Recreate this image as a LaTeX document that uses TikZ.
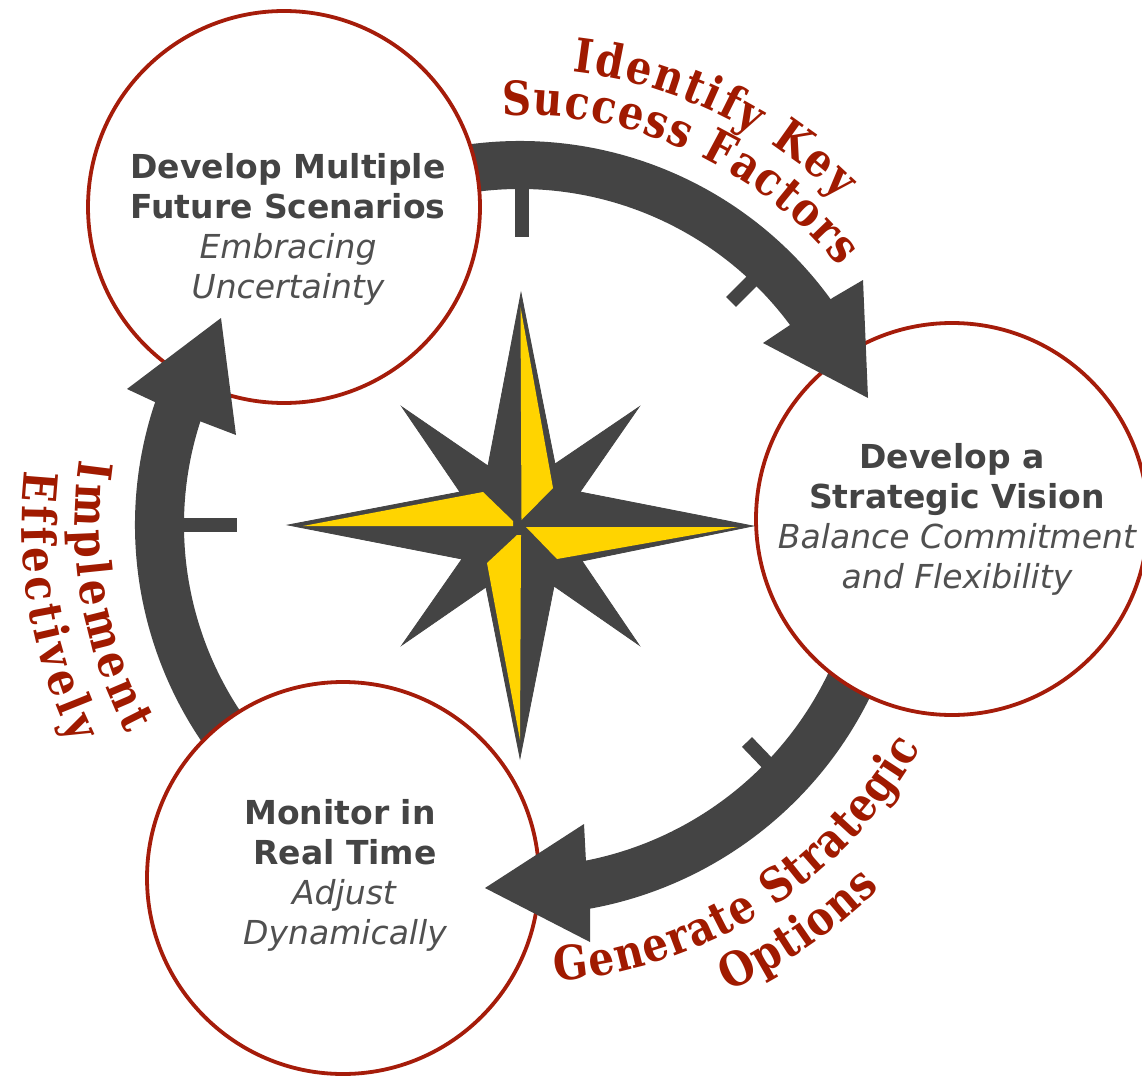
\documentclass[tikz,border=0pt]{standalone}
\usepackage{fontspec}
\setmainfont{DejaVu Sans}
\newfontfamily\curvefont[FakeStretch=0.86]{DejaVu Serif}
\usetikzlibrary{decorations.text}
\definecolor{ringdark}{HTML}{444444}
\definecolor{ringred}{HTML}{A51C0A}
\definecolor{labelred}{HTML}{A01A00}
\definecolor{starfill}{HTML}{FFD400}
\definecolor{subgray}{HTML}{505050}
\newcommand\curvefmt{\curvefont\bfseries\fontsize{47}{47}\selectfont\color{labelred}}
\newcommand\hdline[1]{{\bfseries\color{ringdark}#1}}
\newcommand\subline[1]{{\itshape\color{subgray}#1}}
\tikzset{
  stage/.style={circle,draw=ringred,fill=white,line width=3.8pt,minimum size=392pt,inner sep=0pt},
  stagetext/.style={align=center,inner sep=0pt,font=\fontsize{33}{40}\selectfont},
  ringpart/.style={fill=ringdark,draw=none},
  tickmark/.style={draw=ringdark,line width=14pt},
  curvelabel/.style={decorate,decoration={text along path,text={#1},text align={fit to path}}}
}
\begin{document}
\begin{tikzpicture}[x=1pt,y=1pt]
\useasboundingbox (0,-1078) rectangle (1142,0);
\fill[white] (0,-1078) rectangle (1142,0);
% tails, ticks (below the circles)
\begin{scope}[shift={(520,-525)}]
  \fill[ringpart] (105:384pt) arc (105:33:384pt) -- (33:336pt) arc (33:105:336pt) -- cycle;
  \fill[ringpart] (-20:390pt) arc (-20:-84:390pt) -- (-84:342pt) arc (-84:-20:342pt) -- cycle;
  \fill[ringpart] (235:385pt) arc (235:158:385pt) -- (158:336pt) arc (158:235:336pt) -- cycle;
\end{scope}
\draw[tickmark] (522,-185) -- (522,-237);
\draw[tickmark] (756,-277) -- (731,-302);
\draw[tickmark] (180,-524.5) -- (237,-524.5);
\draw[tickmark] (772,-768) -- (747,-742);
% circles
\node[stage] (scenarios) at (284,-207) {};
\node[stage] (vision) at (952,-519) {};
\node[stage] (monitor) at (343,-878) {};
% arrow heads
\fill[ringpart] (868,-398) -- (863,-280) -- (834,-297) -- (793,-323) -- (763,-343) -- cycle;
\fill[ringpart] (485,-888) -- (584,-824) -- (586,-862) -- (590,-909) -- (590,-942) -- cycle;
\fill[ringpart] (221,-318) -- (127,-389) -- (157,-403) -- (202,-422) -- (236,-435) -- cycle;
% compass star
\filldraw[fill=ringdark,draw=ringdark,line width=0.8pt,line join=miter]
  (521,-293) -- (555,-464) -- (639,-407) -- (580,-492) -- (753,-526) -- (582,-561) -- (639,-645)
  -- (554,-586) -- (520,-758) -- (486,-587) -- (402,-645) -- (462,-559) -- (288,-525) -- (460,-492)
  -- (402,-407) -- (488,-466) -- cycle;
\fill[starfill] (520.5,-307) -- (553,-488) -- (521.5,-520) -- cycle;
\fill[starfill] (738,-527) -- (557,-559) -- (526,-527) -- cycle;
\fill[starfill] (520,-740) -- (487,-563) -- (517,-535) -- (521,-535) -- cycle;
\fill[starfill] (303,-526) -- (483,-492) -- (513,-521) -- (513,-526) -- cycle;
% circle texts
\node[stagetext] (t1) at (288,-229) {\hdline{Develop Multiple}\\\hdline{Future Scenarios}\\\subline{Embracing}\\\subline{Uncertainty}};
\node[stagetext] (t2) at (957,-519) {\hdline{Develop a}\hspace{10pt}\null\\\hdline{Strategic Vision}\\\subline{Balance Commitment}\\\subline{and Flexibility}};
\node[stagetext] (t3) at (343,-875) {\hdline{Monitor in}\hspace{6pt}\null\\\hspace{4pt}\hdline{Real Time}\\\hspace{2pt}\subline{Adjust}\\\hspace{4pt}\subline{Dynamically}};
% curved labels
\begin{scope}[shift={(520,-525)}]
  \path[curvelabel={|\curvefmt|Identify Key}] (83.4:456pt) arc (83.4:45.6:456pt);
  \path[curvelabel={|\curvefmt|Success Factors}] (92.5:410pt) arc (92.5:39:410pt);
  \path[curvelabel={|\curvefmt|Generate Strategic}] (-85.5:458pt) arc (-85.5:-29:458pt);
  \path[curvelabel={|\curvefmt|Options}] (-65.9:511pt) arc (-65.9:-45.2:511pt);
  \path[curvelabel={|\curvefmt|Implement}] (171.6:445pt) arc (171.6:208:445pt);
  \path[curvelabel={|\curvefmt|Effectively}] (173.7:498pt) arc (173.7:206:498pt);
\end{scope}
\end{tikzpicture}
\end{document}
